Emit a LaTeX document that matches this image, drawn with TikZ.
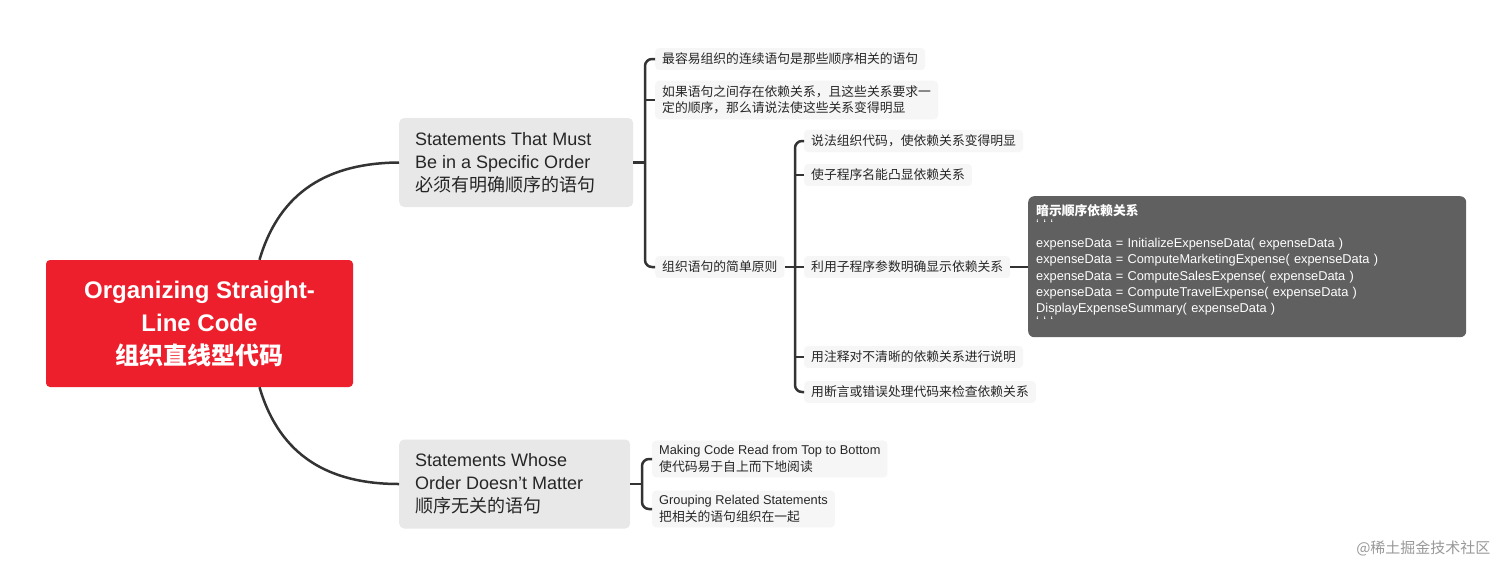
\documentclass[tikz,border=0pt]{standalone}
\usepackage{fontspec}
\setmainfont{Liberation Sans}
\newfontfamily\cjk{Noto Sans CJK SC}
\usetikzlibrary{calc}
\definecolor{rootred}{HTML}{EE1F2C}
\definecolor{brgray}{HTML}{E8E8E8}
\definecolor{leafbg}{HTML}{F6F6F6}
\definecolor{dark}{HTML}{606060}
\definecolor{ln}{HTML}{333333}
\tikzset{
  leaf/.style={anchor=west, fill=leafbg, rounded corners=4pt, inner xsep=7pt, inner ysep=5pt, align=left, font=\fontsize{12.8}{16.5}\selectfont, text=black!85},
  branch/.style={fill=brgray, rounded corners=5pt, align=flush left, inner xsep=16pt, font=\fontsize{18}{23}\selectfont, text=black!85, minimum height=89pt},
  conn/.style={draw=ln, line width=2.5pt, rounded corners=7pt},
}
\begin{document}
\begin{tikzpicture}[x=1pt,y=-1pt]
\useasboundingbox (0,0) rectangle (1512,576);
\fill[white] (0,0) rectangle (1512,576);
% root
\node[fill=rootred, rounded corners=4pt, minimum width=307pt, minimum height=127pt, align=center, text=white, font=\bfseries\fontsize{24}{33}\selectfont] (root) at (199.5,323.5) {Organizing Straight-\\Line Code\\{\cjk\bfseries 组织直线型代码}};
% branches
\node[branch, anchor=west, text width=202pt] (b1) at (399,162.5) {Statements That Must\\Be in a Specific Order\\{\cjk 必须有明确顺序的语句}};
\node[branch, anchor=west, text width=199pt] (b2) at (399,484) {Statements Whose\\Order Doesn't Matter\\{\cjk 顺序无关的语句}};
\draw[conn] ([xshift=60pt]root.north) .. controls (280,190) and (330,163) .. (b1.west);
\draw[conn] ([xshift=60pt]root.south) .. controls (280,457) and (330,484) .. (b2.west);
% level 2 under b1
\node[leaf] (l1) at (655,59) {\cjk 最容易组织的连续语句是那些顺序相关的语句};
\node[leaf] (l2) at (655,100) {\cjk 如果语句之间存在依赖关系，且这些关系要求一\\\cjk 定的顺序，那么请说法使这些关系变得明显};
\node[leaf] (l3) at (655,267) {\cjk 组织语句的简单原则};
\draw[conn] (l1.west) -- ++(-10,0) |- (l3.west);
\draw[conn] (l2.west) -- ++(-10,0);
\draw[conn] (b1.east) -- ++(12,0);
% level 3
\node[leaf] (m1) at (804,141) {\cjk 说法组织代码，使依赖关系变得明显};
\node[leaf] (m2) at (804,175) {\cjk 使子程序名能凸显依赖关系};
\node[leaf] (m3) at (804,267) {\cjk 利用子程序参数明确显示依赖关系};
\node[leaf] (m4) at (804,357) {\cjk 用注释对不清晰的依赖关系进行说明};
\node[leaf] (m5) at (804,392) {\cjk 用断言或错误处理代码来检查依赖关系};
\draw[conn] (m1.west) -- ++(-9,0) |- (m5.west);
\draw[conn] (m2.west) -- ++(-9,0);
\draw[conn] (m4.west) -- ++(-9,0);
\draw[conn] (l3.east) -- (m3.west);
% dark code box
\node[fill=dark, rounded corners=6pt, minimum width=438pt, minimum height=141pt, anchor=north west] (code) at (1028,196) {};
\node[anchor=north west, text width=424pt, inner sep=0pt, align=left, text=white, font=\fontsize{12.8}{16.2}\selectfont] (codetext) at (1036,204) {{\cjk\bfseries 暗示顺序依赖关系}\\[-3pt]
` ` `\\[3pt]
expenseData = InitializeExpenseData( expenseData )\\
expenseData = ComputeMarketingExpense( expenseData )\\
expenseData = ComputeSalesExpense( expenseData )\\
expenseData = ComputeTravelExpense( expenseData )\\
DisplayExpenseSummary( expenseData )\\[-3pt]
` ` `};
\draw[conn] (m3.east) -- (m3.east -| code.west);
% level 2 under b2
\node[leaf] (n1) at (652,459) {Making Code Read from Top to Bottom\\\cjk 使代码易于自上而下地阅读};
\node[leaf] (n2) at (652,509) {Grouping Related Statements\\\cjk 把相关的语句组织在一起};
\draw[conn] (n1.west) -- ++(-10,0) |- (n2.west);
\draw[conn] (b2.east) -- ++(12,0);
% watermark
\node[anchor=east, text=black!40, font=\cjk\fontsize{15}{18}\selectfont] (wm) at (1494,548) {@稀土掘金技术社区};
\end{tikzpicture}
\end{document}
